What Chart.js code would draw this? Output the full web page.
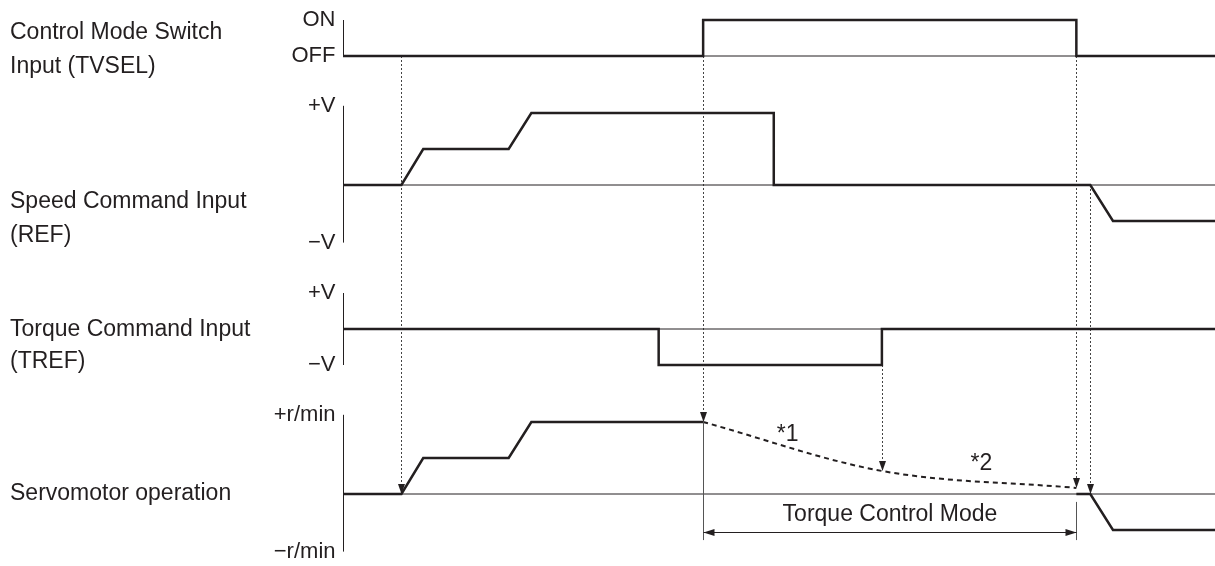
<!DOCTYPE html>
<html>
<head>
<meta charset="utf-8">
<title>Torque control timing</title>
<script src="https://cdn.jsdelivr.net/npm/chart.js@4/dist/chart.umd.min.js"></script>
<style>
  html, body { margin: 0; background: #fff; }
  #wrap { width: 1215px; height: 566px; position: relative; }
</style>
</head>
<body>
<div id="wrap"><canvas id="timingChart"></canvas></div>
<script>
// time axis runs 0..100 (arbitrary units), levels are in steps of one
const tvselT = [0, 41.3, 41.3, 84.1, 84.1, 100];
const tvselV = [0, 0, 1, 1, 0, 0];

const speedT = [0, 6.7, 9.2, 19, 21.6, 49.4, 49.4, 85.7, 88.3, 100];
const speedV = [0, 0, 1, 1, 2, 2, 0, 0, -1, -1];

const torqueT = [0, 36.2, 36.2, 61.8, 61.8, 100];
const torqueV = [0, 0, -1, -1, 0, 0];

const servoT = [0, 6.7, 9.2, 19, 21.6, 41.3];
const servoV = [0, 0, 1, 1, 2, 2];
// motor coasting while in torque control mode (dashed)
const coastT = [41.3, 61.8, 84.1];
const coastV = [2, 0.64, 0.17];
const servoTailT = [84.1, 85.7, 88.3, 100];
const servoTailV = [0, 0, -1, -1];

const signalNames = [
  ["Control Mode Switch", "Input (TVSEL)"],
  ["Speed Command Input", "(REF)"],
  ["Torque Command Input", "(TREF)"],
  ["Servomotor operation"]
];
const axisIds = ["yTvsel", "ySpeed", "yTorque", "yServo"];
const axisTop = ["ON", "+V", "+V", "+r/min"];
const axisBottom = ["OFF", "\u2212V", "\u2212V", "\u2212r/min"];
const axisMin = [0, -1.6, -1, -1.6];
const axisMax = [1, 2.2, 1, 2.2];

// dotted arrows: time, start (axis, value), tip (axis, value)
const markerT = [6.7, 41.3, 61.8, 84.1, 85.7];
const markerFrom = [["yTvsel", 0], ["yTvsel", 0], ["yTorque", -1], ["yTvsel", 0], ["ySpeed", 0]];
const markerTo = [["yServo", 0], ["yServo", 2], ["yServo", 0.64], ["yServo", 0.17], ["yServo", 0]];

const modeSpan = [41.3, 84.1];
const modeLabel = "Torque Control Mode";
const noteText = ["*1", "*2"];
const noteT = [51, 73.2];
const noteV = [1.64, 0.83];

// layout (pixels)
const bandZero = { yTvsel: 56, ySpeed: 185, yTorque: 329, yServo: 494 };
const unitPx = 36;
const canvasH = 566;
const nameRows = [[33, 67], [202, 236], [330, 362], [494]];
const ink = "#231f20";
const face = "'Liberation Sans', Arial, sans-serif";
const nameFont = "23px " + face;
const tickFont = "22px " + face;

const pts = (t, v) => t.map((x, i) => ({ x, y: v[i] }));

function signal(data, axis, extra) {
  return Object.assign({
    data, yAxisID: axis, borderColor: ink, borderWidth: 2.5,
    pointRadius: 0, borderJoinStyle: "miter", tension: 0, fill: false
  }, extra || {});
}

function baseline(axis) {
  return signal(pts([0, 100], [0, 0]), axis, { borderWidth: 1 });
}

const yScales = {};
axisIds.forEach(id => {
  yScales[id] = {
    type: "linear", display: false,
    min: -(canvasH - bandZero[id]) / unitPx,
    max: bandZero[id] / unitPx
  };
});

function arrowHead(c, x, y, dir) {
  // dir: "down", "left", "right"
  c.beginPath();
  if (dir === "down") { c.moveTo(x, y); c.lineTo(x - 3.5, y - 10); c.lineTo(x + 3.5, y - 10); }
  if (dir === "left") { c.moveTo(x, y); c.lineTo(x + 11, y - 3.5); c.lineTo(x + 11, y + 3.5); }
  if (dir === "right") { c.moveTo(x, y); c.lineTo(x - 11, y - 3.5); c.lineTo(x - 11, y + 3.5); }
  c.closePath();
  c.fill();
}

const timingDecor = {
  id: "timingDecor",
  beforeDatasetsDraw(chart) {
    const c = chart.ctx, xs = chart.scales.x;
    c.save();
    c.strokeStyle = "#444";
    c.lineWidth = 1;
    c.setLineDash([2, 2]);
    markerT.forEach((t, i) => {
      const x = Math.round(xs.getPixelForValue(t)) + 0.5;
      const y0 = chart.scales[markerFrom[i][0]].getPixelForValue(markerFrom[i][1]);
      const y1 = chart.scales[markerTo[i][0]].getPixelForValue(markerTo[i][1]);
      c.beginPath(); c.moveTo(x, y0); c.lineTo(x, y1 - 8); c.stroke();
    });
    c.restore();
  },
  afterDatasetsDraw(chart) {
    const c = chart.ctx, xs = chart.scales.x, sv = chart.scales.yServo;
    c.save();
    c.fillStyle = ink;
    markerT.forEach((t, i) => {
      const x = Math.round(xs.getPixelForValue(t)) + 0.5;
      arrowHead(c, x, chart.scales[markerTo[i][0]].getPixelForValue(markerTo[i][1]), "down");
    });

    // vertical axes with end labels
    const ax = Math.round(xs.getPixelForValue(0)) + 0.5;
    c.strokeStyle = ink;
    c.lineWidth = 1;
    c.font = tickFont;
    c.textAlign = "right";
    c.textBaseline = "middle";
    axisIds.forEach((id, i) => {
      const s = chart.scales[id];
      const yTop = s.getPixelForValue(axisMax[i]), yBot = s.getPixelForValue(axisMin[i]);
      c.beginPath(); c.moveTo(ax, yTop); c.lineTo(ax, yBot); c.stroke();
      c.fillText(axisTop[i], ax - 8, yTop);
      c.fillText(axisBottom[i], ax - 8, yBot);
    });

    // signal names
    c.font = nameFont;
    c.textAlign = "left";
    signalNames.forEach((lines, i) => {
      lines.forEach((txt, j) => c.fillText(txt, 10, nameRows[i][j]));
    });

    // torque control mode span
    const xa = Math.round(xs.getPixelForValue(modeSpan[0])) + 0.5;
    const xb = Math.round(xs.getPixelForValue(modeSpan[1])) + 0.5;
    const yArrow = Math.round(sv.getPixelForValue(-1.05)) + 0.5;
    const yEnd = sv.getPixelForValue(-1.28);
    c.strokeStyle = "#555";
    c.beginPath();
    c.moveTo(xa, sv.getPixelForValue(2)); c.lineTo(xa, yEnd);
    c.moveTo(xb, sv.getPixelForValue(-0.22)); c.lineTo(xb, yEnd);
    c.stroke();
    c.strokeStyle = ink;
    c.beginPath(); c.moveTo(xa, yArrow); c.lineTo(xb, yArrow); c.stroke();
    arrowHead(c, xa, yArrow, "left");
    arrowHead(c, xb, yArrow, "right");
    c.textAlign = "center";
    c.fillText(modeLabel, (xa + xb) / 2, sv.getPixelForValue(-0.56));

    noteText.forEach((txt, i) => {
      c.fillText(txt, xs.getPixelForValue(noteT[i]), sv.getPixelForValue(noteV[i]));
    });
    c.restore();
  }
};

const timingChart = new Chart(document.getElementById("timingChart"), {
  type: "line",
  data: {
    datasets: [
      baseline("yTvsel"),
      baseline("ySpeed"),
      baseline("yTorque"),
      baseline("yServo"),
      signal(pts(tvselT, tvselV), "yTvsel"),
      signal(pts(speedT, speedV), "ySpeed"),
      signal(pts(torqueT, torqueV), "yTorque"),
      signal(pts(servoT, servoV), "yServo"),
      signal(pts(coastT, coastV), "yServo", { borderWidth: 2, borderDash: [5, 4], cubicInterpolationMode: "monotone" }),
      signal(pts(servoTailT, servoTailV), "yServo")
    ]
  },
  options: {
    responsive: true,
    maintainAspectRatio: false,
    animation: false,
    layout: { padding: { left: 343, right: 0, top: 0, bottom: 0 } },
    plugins: { legend: { display: false }, tooltip: { enabled: false } },
    scales: Object.assign({
      x: { type: "linear", display: false, min: 0, max: 100 }
    }, yScales)
  },
  plugins: [timingDecor]
});
</script>
</body>
</html>
